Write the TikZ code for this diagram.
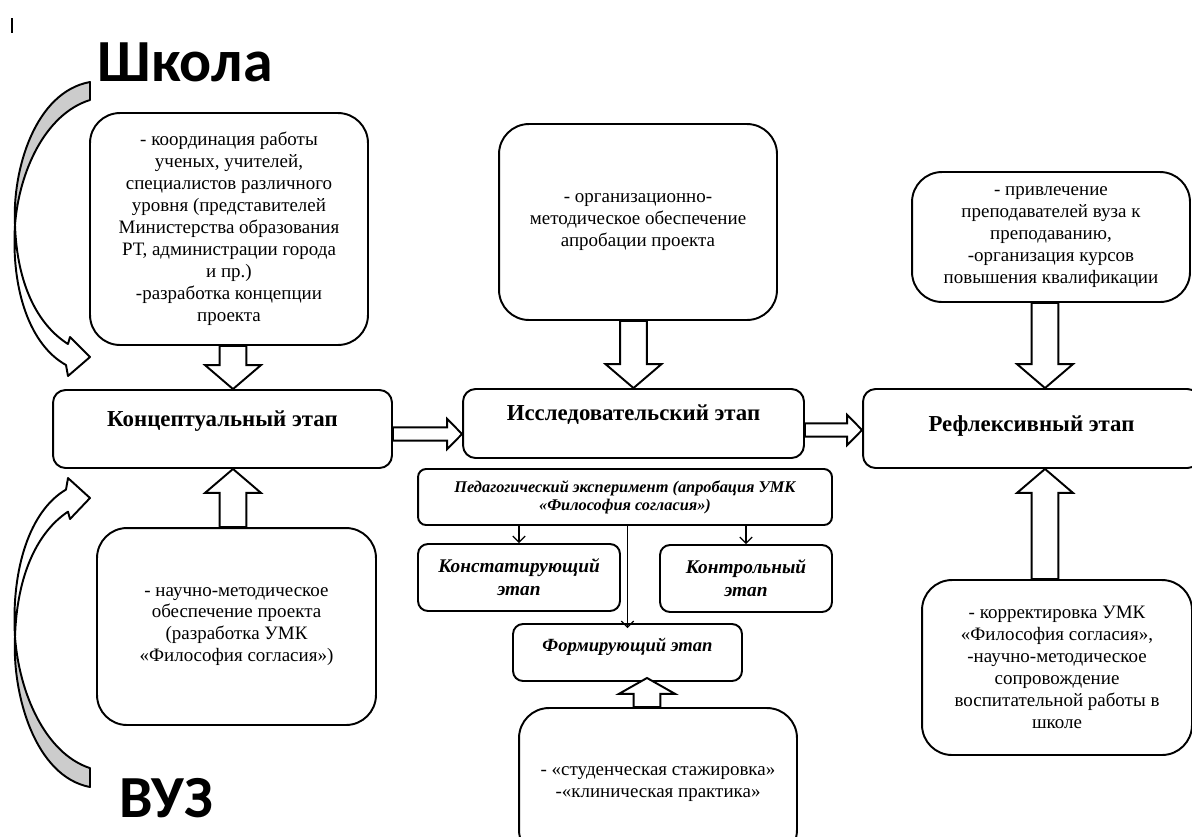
\documentclass[tikz,border=0pt]{standalone}
\usepackage{fontspec}
\setmainfont{Liberation Serif}
\newfontfamily\headfont{Carlito}
\usetikzlibrary{calc,arrows.meta}

% curved ribbon arrow beside the stages: grey back face and white band
\newcommand{\bendface}[1]{%
  \path[#1] (90,82) .. controls (35,92) and (12,170) .. (15,225)
    .. controls (19,172) and (45,114) .. (90,100) -- cycle;}
\newcommand{\bendband}[1]{%
  \path[#1] (15,225) .. controls (17,285) and (38,325) .. (68,344) -- (70,337)
    -- (90,357) -- (68,376) -- (66,365) .. controls (30,345) and (11,290) .. (15,225) -- cycle;}

\begin{document}
\begin{tikzpicture}[x=0.02cm, y=-0.02cm,
  box/.style={draw, line width=1.1pt, rounded corners=0.6cm, align=center, inner sep=2pt,
    font=\fontsize{10.8}{12.5}\selectfont},
  stage/.style={draw, line width=1.1pt, rounded corners=0.25cm, align=center,
    font=\fontsize{13}{14}\selectfont\bfseries, text depth=0.42cm},
  substage/.style={draw, line width=1.1pt, rounded corners=0.2cm, align=center,
    font=\fontsize{11}{13}\selectfont\bfseries\itshape},
  title/.style={font=\headfont\fontsize{34}{36}\selectfont\bfseries},
  link/.style={-{Straight Barb[length=3.5pt,width=7pt]}, line width=0.7pt},
  vblock/.style={draw, line width=1.1pt, fill=white, to path={
    let \p1=(\tikztostart), \p2=(\tikztotarget), \n1={ifthenelse(\y2>\y1,1,-1)} in
    ({\x2-7.6pt},\y1) -- ({\x2-7.6pt},{\y2-\n1*#1}) -- ({\x2-15.9pt},{\y2-\n1*#1})
    -- (\x2,\y2) -- ({\x2+15.9pt},{\y2-\n1*#1}) -- ({\x2+7.6pt},{\y2-\n1*#1})
    -- ({\x2+7.6pt},\y1) -- cycle}},
  vblock/.default=13.6pt,
  hblock/.style={draw, line width=1.1pt, fill=white, to path={
    let \p1=(\tikztostart), \p2=(\tikztotarget), \n1={ifthenelse(\x2>\x1,1,-1)} in
    (\x1,{\y2+3.8pt}) -- ({\x2-\n1*8.5pt},{\y2+3.8pt}) -- ({\x2-\n1*8.5pt},{\y2+8.6pt})
    -- (\x2,\y2) -- ({\x2-\n1*8.5pt},{\y2-8.6pt}) -- ({\x2-\n1*8.5pt},{\y2-3.8pt})
    -- (\x1,{\y2-3.8pt}) -- cycle}}]

\clip (0,0) rectangle (1192,836);

\draw[line width=1.2pt] (12,18) -- (12,33);

\node[title] (school-title) at (185,62) {Школа};
\node[title] (uni-title) at (166,798) {ВУЗ};

\foreach \o/\s in {0/1, 873.2/-1.051} {
  \begin{scope}[shift={(0,\o)}, yscale=\s]
    \bendface{fill=black!20, draw, line width=1.1pt, line join=round}
    \bendband{fill=white, draw, line width=1.1pt, line join=round}
  \end{scope}
}

% upper boxes
\node[box, minimum width=5.56cm, minimum height=4.64cm] (school) at (229,229)
  {- координация работы\\ученых, учителей,\\специалистов различного\\уровня (представителей\\Министерства образования\\РТ, администрации города\\и пр.)\\-разработка концепции\\проекта};
\node[box, minimum width=5.56cm, minimum height=3.92cm] (method) at (638,222)
  {- организационно-\\методическое обеспечение\\апробации проекта};
\node[box, minimum width=5.56cm, minimum height=2.6cm] (teach) at (1051,237)
  {- привлечение\\преподавателей вуза к\\преподаванию,\\-организация курсов\\повышения квалификации};

% stages
\node[stage, minimum width=6.78cm, minimum height=1.56cm] (concept) at (222.5,429) {Концептуальный этап};
\node[stage, minimum width=6.82cm, minimum height=1.38cm] (research) at (633.5,423.5) {Исследовательский этап};
\node[stage, minimum width=6.74cm, minimum height=1.58cm, text depth=0.18cm] (reflex) at (1031.5,428.5) {Рефлексивный этап};

% experiment
\node[substage, rounded corners=0.16cm, minimum width=8.28cm, minimum height=1.12cm,
  font=\fontsize{9.3}{10.2}\selectfont\bfseries\itshape] (exper) at (625,497)
  {Педагогический эксперимент (апробация УМК\\«Философия согласия»)};
\node[substage, minimum width=4.04cm, minimum height=1.34cm] (ascert) at (519,577.5) {Констатирующий\\этап};
\node[substage, minimum width=3.44cm, minimum height=1.34cm] (control) at (746,578.5) {Контрольный\\этап};
\node[substage, minimum width=4.58cm, minimum height=1.14cm, text depth=0.3cm,
  font=\fontsize{10.6}{12}\selectfont\bfseries\itshape] (form) at (627.5,652.5) {Формирующий этап};

% lower boxes
\node[box, minimum width=5.58cm, minimum height=3.94cm] (science) at (236.5,626.5)
  {- научно-методическое\\обеспечение проекта\\(разработка УМК\\«Философия согласия»)};
\node[box, minimum width=5.4cm, minimum height=3.5cm] (correct) at (1057,667.5)
  {- корректировка УМК\\«Философия согласия»,\\-научно-методическое\\сопровождение\\воспитательной работы в\\школе};
\node[box, minimum width=5.56cm, minimum height=3.04cm] (practice) at (658,784)
  {- «студенческая стажировка»\\-«клиническая практика»};

% block arrows
\draw[vblock] (school.south) to ([xshift=0.21cm]concept.north);
\draw[vblock] (method.south) to (research.north);
\draw[vblock] (teach.south) to ([xshift=0.27cm]reflex.north);
\draw[vblock] (science.north) to ([xshift=0.21cm]concept.south);
\draw[vblock] (correct.north) to ([xshift=0.27cm]reflex.south);
\draw[vblock=9pt] (practice.north) to ([xshift=0.39cm,yshift=0.08cm]form.south);
\draw[hblock] (concept.east) to ([yshift=-0.21cm]research.west);
\draw[hblock] (research.east) to ([yshift=-0.03cm]reflex.west);

% thin arrows
\draw[link] (ascert.north |- exper.south) -- (ascert.north);
\draw[link] (control.north |- exper.south) -- (control.north);
\draw[link] (form.north |- exper.south) -- ([yshift=-0.1cm]form.north);

\end{tikzpicture}
\end{document}
